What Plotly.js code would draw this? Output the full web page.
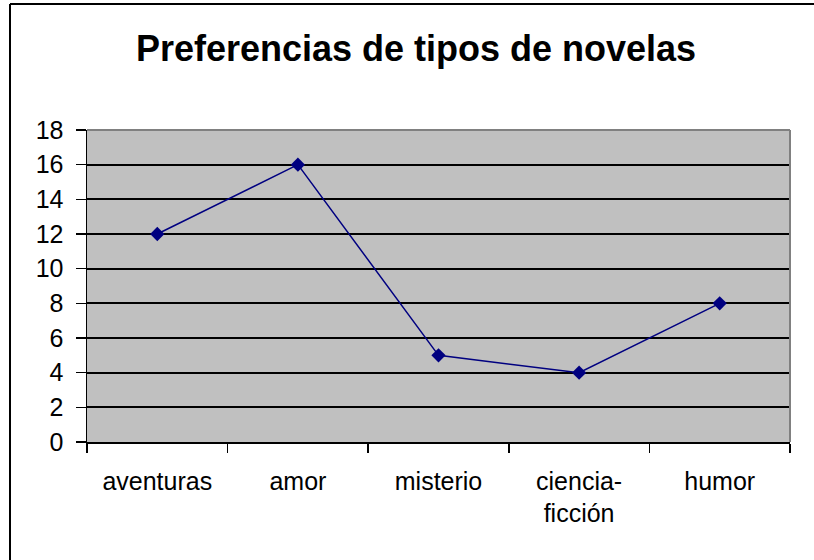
<!DOCTYPE html>
<html>
<head>
<meta charset="utf-8">
<script src="https://cdn.plot.ly/plotly-3.0.1.min.js"></script>
<style>
  html, body { margin: 0; padding: 0; background: #fff; }
  #chart { width: 814px; height: 560px; }
</style>
</head>
<body>
<div id="chart"></div>
<script>
const categories = ['aventuras', 'amor', 'misterio', 'ciencia-<br>ficción', 'humor'];
const values = [12, 16, 5, 4, 8];
const yTicks = [0, 2, 4, 6, 8, 10, 12, 14, 16, 18];

const L = 87, R = 790, T = 130, B = 442, W = 814, H = 560;
const px = x => (x - L) / (R - L);
const py = y => (B - y) / (B - T);

const trace = {
  type: 'scatter',
  mode: 'lines+markers',
  x: categories,
  y: values,
  line: { color: '#000080', width: 1.5 },
  marker: { symbol: 'diamond', size: 11, color: '#000080' },
  hoverinfo: 'skip'
};

const layout = {
  width: W, height: H,
  margin: { l: L, r: W - R, t: T, b: H - B },
  paper_bgcolor: '#ffffff',
  plot_bgcolor: '#c0c0c0',
  showlegend: false,
  font: { family: 'Liberation Sans, Arial, sans-serif', color: '#000000', size: 25 },
  title: {
    text: '<b>Preferencias de tipos de novelas</b>',
    font: { size: 36, family: 'Liberation Sans, Arial, sans-serif', color: '#000' },
    x: 416 / W, xanchor: 'center', xref: 'container',
    y: 1 - 61 / H, yanchor: 'bottom', yref: 'container'
  },
  xaxis: {
    type: 'category',
    tickson: 'boundaries',
    ticks: 'outside', ticklen: 9, tickwidth: 1.5, tickcolor: '#000',
    showline: true, linecolor: '#000', linewidth: 1.5,
    showgrid: false, zeroline: false,
    tickfont: { size: 25 },
    ticklabelstandoff: 16,
    range: [-0.5, 4.5], fixedrange: true
  },
  yaxis: {
    range: [0, 18],
    tickvals: yTicks,
    ticktext: yTicks.map(String),
    ticks: 'outside', ticklen: 10, tickwidth: 1.5, tickcolor: '#000',
    showline: true, linecolor: '#000', linewidth: 1.5,
    showgrid: true, gridcolor: '#000', gridwidth: 2,
    zeroline: false,
    tickfont: { size: 25 },
    ticklabelstandoff: 7,
    fixedrange: true
  },
  shapes: [
    { type: 'line', xref: 'paper', yref: 'paper', x0: 0, x1: 1, y0: 1, y1: 1,
      line: { color: '#808080', width: 2 }, layer: 'above' },
    { type: 'line', xref: 'paper', yref: 'paper', x0: 1, x1: 1, y0: 0, y1: 1,
      line: { color: '#808080', width: 2 }, layer: 'above' },
    { type: 'line', xref: 'paper', yref: 'paper', x0: px(10), x1: px(10), y0: py(4), y1: py(H + 20),
      line: { color: '#000', width: 2 }, layer: 'above' },
    { type: 'line', xref: 'paper', yref: 'paper', x0: px(10), x1: px(W + 20), y0: py(4), y1: py(4),
      line: { color: '#000', width: 2 }, layer: 'above' }
  ]
};

Plotly.newPlot('chart', [trace], layout, { displayModeBar: false, staticPlot: true });
</script>
</body>
</html>
